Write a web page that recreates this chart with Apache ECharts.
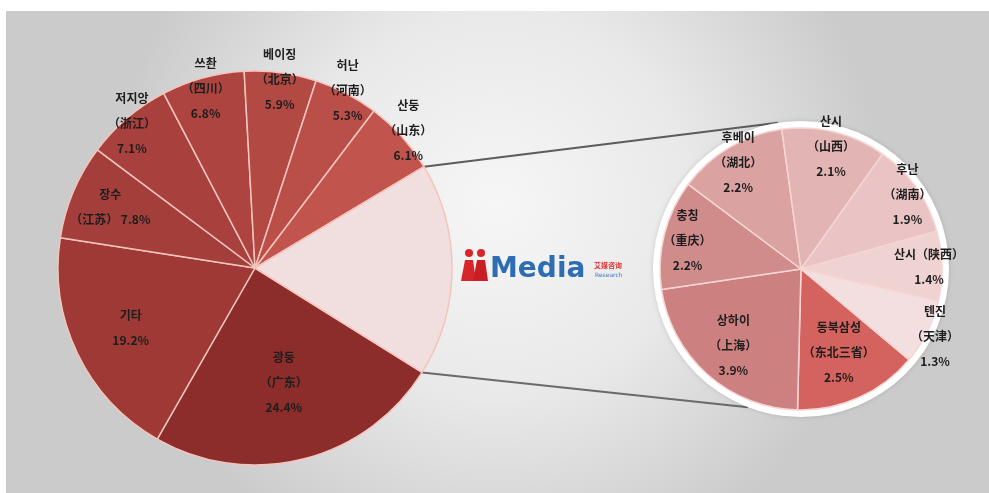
<!DOCTYPE html>
<html>
<head>
<meta charset="utf-8">
<script src="https://cdn.jsdelivr.net/npm/echarts@6/dist/echarts.min.js"></script>
<style>
  html, body { margin: 0; padding: 0; background: #ffffff; }
  #chart { width: 989px; height: 493px; }
</style>
</head>
<body>
<div id="chart"></div>
<script>
// Regional shares (%), main breakdown
const mainRegions   = ['광둥', '기타', '장수', '저지앙', '쓰촨', '베이징', '허난', '산둥', '기타 지역'];
const mainRegionsZh = ['广东', '', '江苏', '浙江', '四川', '北京', '河南', '山东', ''];
const mainShares    = [24.4, 19.2, 7.8, 7.1, 6.8, 5.9, 5.3, 6.1];

// Breakdown of the remaining regions
const detailRegions   = ['동북삼성', '상하이', '충칭', '후베이', '산시', '후난', '산시', '톈진'];
const detailRegionsZh = ['东北三省', '上海', '重庆', '湖北', '山西', '湖南', '陕西', '天津'];
const detailShares    = [2.5, 3.9, 2.2, 2.2, 2.1, 1.9, 1.4, 1.3];

// The light slice of the main pie is the total of the breakdown
const restShare = +detailShares.reduce((a, b) => a + b, 0).toFixed(1);

// ---- styling ----
const mainColors   = ['#8c2c2b', '#9e3935', '#a43e3a', '#a8413d', '#ad4440', '#b34943', '#ba4e48', '#c2544e', '#f1dfdf'];
const detailColors = ['#d4625e', '#cd8080', '#d08b8b', '#dba2a2', '#e3b4b4', '#eac4c4', '#efd2d2', '#f3dfdf'];
// how the label text is stacked: 's' = three lines, 'w' = zh + value on one line,
// 'n' = name with zh on one line, 'o' = name + value only
const mainLabelForm   = ['s', 'o', 'w', 's', 's', 's', 's', 's', 'none'];
const detailLabelForm = ['s', 's', 's', 's', 's', 's', 'n', 's'];
// distance of each label from its pie centre
const mainLabelRadius   = [118, 138, 157, 190, 186, 190, 200, 206, 0];
const detailLabelRadius = [92, 102, 117, 124, 126, 130, 128, 150];

const MAIN = { cx: 255, cy: 268, r: 197, start: -32 };
const DETAIL = { cx: 801, cy: 269, r: 141, ring: 148, start: -40 };

function labelText(form, name, zh, value) {
  const v = value + '%';
  if (form === 's') return name + '\n（' + zh + '）\n' + v;
  if (form === 'w') return name + '\n（' + zh + '） ' + v;
  if (form === 'n') return name + '（' + zh + '）\n' + v;
  if (form === 'o') return name + '\n' + v;
  return '';
}

function placeLabels(cx, cy, radii) {
  return function (p) {
    const r = radii[p.dataIndex];
    const rect = p.labelRect;
    const lx = rect.x + rect.width / 2;
    const ly = rect.y + rect.height / 2;
    const dx = lx - cx, dy = ly - cy;
    const d = Math.hypot(dx, dy) || 1;
    return { x: cx + dx / d * r, y: cy + dy / d * r };
  };
}

const labelBase = {
  position: 'inside',
  color: '#1d1d1d',
  fontFamily: '"Noto Sans CJK KR", "Noto Sans CJK SC", sans-serif',
  fontSize: 12,
  fontWeight: 'bold',
  lineHeight: 25
};

const allMainShares = mainShares.concat([restShare]);
const mainData = allMainShares.map((v, i) => ({
  name: mainRegions[i],
  value: v,
  itemStyle: { color: mainColors[i] },
  label: Object.assign({}, labelBase, {
    show: mainLabelForm[i] !== 'none',
    formatter: labelText(mainLabelForm[i], mainRegions[i], mainRegionsZh[i], v)
  })
}));

const detailData = detailShares.map((v, i) => ({
  name: detailRegions[i] + detailRegionsZh[i],
  value: v,
  itemStyle: { color: detailColors[i] },
  label: Object.assign({}, labelBase, {
    formatter: labelText(detailLabelForm[i], detailRegions[i], detailRegionsZh[i], v)
  })
}));

// connector lines from the light slice to the breakdown circle
const totalMain = allMainShares.reduce((a, b) => a + b, 0);
const restStartDeg = -MAIN.start + (totalMain - restShare) / totalMain * 360;
const restEndDeg = -MAIN.start + 360;
const rad = d => d * Math.PI / 180;
const onMain = d => [MAIN.cx + MAIN.r * Math.cos(rad(d)), MAIN.cy + MAIN.r * Math.sin(rad(d))];
const onRing = d => [DETAIL.cx + DETAIL.ring * Math.cos(rad(d)), DETAIL.cy + DETAIL.ring * Math.sin(rad(d))];
const topA = onMain(restStartDeg), topB = onRing(-99);
const botA = onMain(restEndDeg), botB = onRing(111);

const chart = echarts.init(document.getElementById('chart'), null, { renderer: 'canvas' });

chart.setOption({
  animation: false,
  backgroundColor: '#ffffff',
  graphic: [
    {
      type: 'rect', z: -10, silent: true,
      shape: { x: 6, y: 11, width: 983, height: 482 },
      style: {
        fill: {
          type: 'radial', x: 0.5, y: 0.4, r: 0.8,
          colorStops: [
            { offset: 0, color: '#f6f6f6' },
            { offset: 0.5, color: '#e9e9e9' },
            { offset: 1, color: '#cbcbcb' }
          ]
        }
      }
    },
    { type: 'line', silent: true, shape: { x1: topA[0], y1: topA[1], x2: topB[0], y2: topB[1] },
      style: { stroke: '#5c5c5c', lineWidth: 2 } },
    { type: 'line', silent: true, shape: { x1: botA[0], y1: botA[1], x2: botB[0], y2: botB[1] },
      style: { stroke: '#6a6a6a', lineWidth: 2 } },
    { type: 'circle', silent: true, shape: { cx: DETAIL.cx, cy: DETAIL.cy, r: DETAIL.ring },
      style: { fill: '#ffffff', shadowBlur: 4, shadowColor: 'rgba(0,0,0,0.15)' } },
    // iiMedia Research mark
    { type: 'circle', silent: true, shape: { cx: 469, cy: 253, r: 4 }, style: { fill: '#d7262a' } },
    { type: 'circle', silent: true, shape: { cx: 481, cy: 253, r: 4 }, style: { fill: '#d7262a' } },
    { type: 'polygon', silent: true, shape: { points: [[465, 260], [473, 260], [476, 281], [461, 281]] }, style: { fill: '#d7262a' } },
    { type: 'polygon', silent: true, shape: { points: [[477, 260], [485, 260], [488, 281], [473, 281]] }, style: { fill: '#c91f24' } },
    { type: 'text', silent: true, x: 490, y: 270,
      style: { text: 'Media', fill: '#2f6db3', font: 'bold 28px "DejaVu Sans", sans-serif', verticalAlign: 'middle' } },
    { type: 'text', silent: true, x: 594, y: 265,
      style: { text: '艾媒咨询', fill: '#e0302f', font: 'bold 7px "Noto Sans CJK SC", sans-serif', verticalAlign: 'middle' } },
    { type: 'text', silent: true, x: 595, y: 275,
      style: { text: 'Research', fill: '#3a78c0', font: '6px "DejaVu Sans", sans-serif', verticalAlign: 'middle' } }
  ],
  series: [
    {
      type: 'pie',
      center: [MAIN.cx, MAIN.cy],
      radius: [0, MAIN.r],
      startAngle: MAIN.start,
      clockwise: true,
      silent: true,
      avoidLabelOverlap: false,
      itemStyle: { borderColor: '#f4c4bd', borderWidth: 1.5 },
      labelLine: { show: false },
      labelLayout: placeLabels(MAIN.cx, MAIN.cy, mainLabelRadius),
      data: mainData
    },
    {
      type: 'pie',
      center: [DETAIL.cx, DETAIL.cy],
      radius: [0, DETAIL.r],
      startAngle: DETAIL.start,
      clockwise: true,
      silent: true,
      avoidLabelOverlap: false,
      itemStyle: { borderColor: '#f6d6d2', borderWidth: 1.5 },
      labelLine: { show: false },
      labelLayout: placeLabels(DETAIL.cx, DETAIL.cy, detailLabelRadius),
      data: detailData
    }
  ]
});
</script>
</body>
</html>
